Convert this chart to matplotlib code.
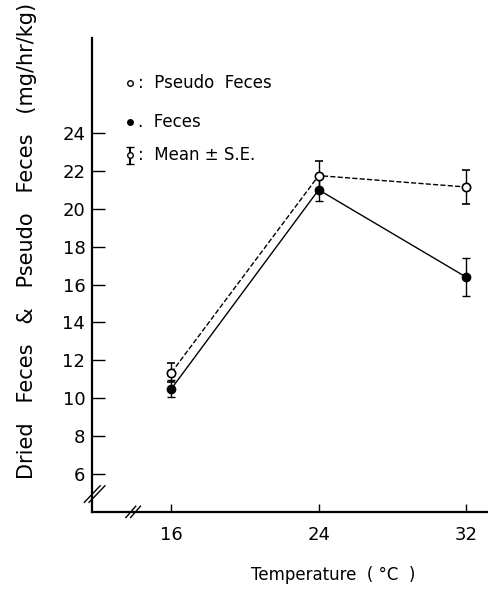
import matplotlib
matplotlib.use("Agg")
import matplotlib.pyplot as plt

temps = [16, 24, 32]
pseudo_mean = [11.35, 21.75, 21.15]
pseudo_se = [0.5, 0.75, 0.9]
feces_mean = [10.5, 21.0, 16.4]
feces_se = [0.45, 0.6, 1.0]
yticks = [6, 8, 10, 12, 14, 16, 18, 20, 22, 24]
xticks = [16, 24, 32]

plt.rcParams['font.family'] = ['DejaVu Sans']
fig = plt.figure(figsize=(4.88, 5.89), dpi=100)
ax = fig.add_axes([0.189, 0.131, 0.811, 0.804])
ax.set_xlim(11.7, 33.2)
ax.set_ylim(4, 29)

ax.errorbar(temps, pseudo_mean, yerr=pseudo_se, fmt='o', mfc='white', mec='black',
            ms=6, mew=1.2, ecolor='black', elinewidth=1, capsize=3, ls='--', color='black', lw=1)
ax.errorbar(temps, feces_mean, yerr=feces_se, fmt='o', mfc='black', mec='black',
            ms=6, ecolor='black', elinewidth=1, capsize=3, ls='-', color='black', lw=1)

for s in ['top', 'right']:
    ax.spines[s].set_visible(False)
ax.spines['left'].set_linewidth(1.6)
ax.spines['bottom'].set_linewidth(1.6)
ax.set_yticks(yticks)
ax.set_xticks(xticks)
ax.tick_params(axis='y', direction='in', length=9, width=1, labelsize=13, pad=5)
ax.tick_params(axis='x', direction='in', length=6, width=1, labelsize=13, pad=10)

ax.set_ylabel('Dried   Feces   &   Pseudo   Feces   (mg/hr/kg)', fontsize=15)
ax.yaxis.set_label_coords(-0.14, 0.572)
ax.set_xlabel('Temperature  ( °C  )', fontsize=12)
ax.xaxis.set_label_coords(0.61, -0.115)

# break marks
kw = dict(transform=ax.transAxes, color='black', lw=1, clip_on=False)
for dx in (0, 0.012):
    ax.plot([-0.02 + dx, 0.02 + dx], [0.02, 0.055], **kw)
    ax.plot([0.085 + dx, 0.11 + dx], [-0.012, 0.012], **kw)

# legend
lx = 0.096
ax.plot([lx], [0.905], 'o', mfc='white', mec='black', ms=4, transform=ax.transAxes, clip_on=False)
ax.text(lx + 0.02, 0.905, ':  Pseudo  Feces', transform=ax.transAxes, va='center', fontsize=12)
ax.plot([lx], [0.823], 'o', mfc='black', mec='black', ms=4, transform=ax.transAxes, clip_on=False)
ax.text(lx + 0.02, 0.823, '.  Feces', transform=ax.transAxes, va='center', fontsize=12)
ax.errorbar([lx], [0.753], yerr=[0.018], fmt='o', mfc='white', mec='black', ms=4,
            ecolor='black', capsize=3, transform=ax.transAxes, clip_on=False)
ax.text(lx + 0.02, 0.753, ':  Mean ± S.E.', transform=ax.transAxes, va='center', fontsize=12)

fig.savefig('out.png', dpi=100)
